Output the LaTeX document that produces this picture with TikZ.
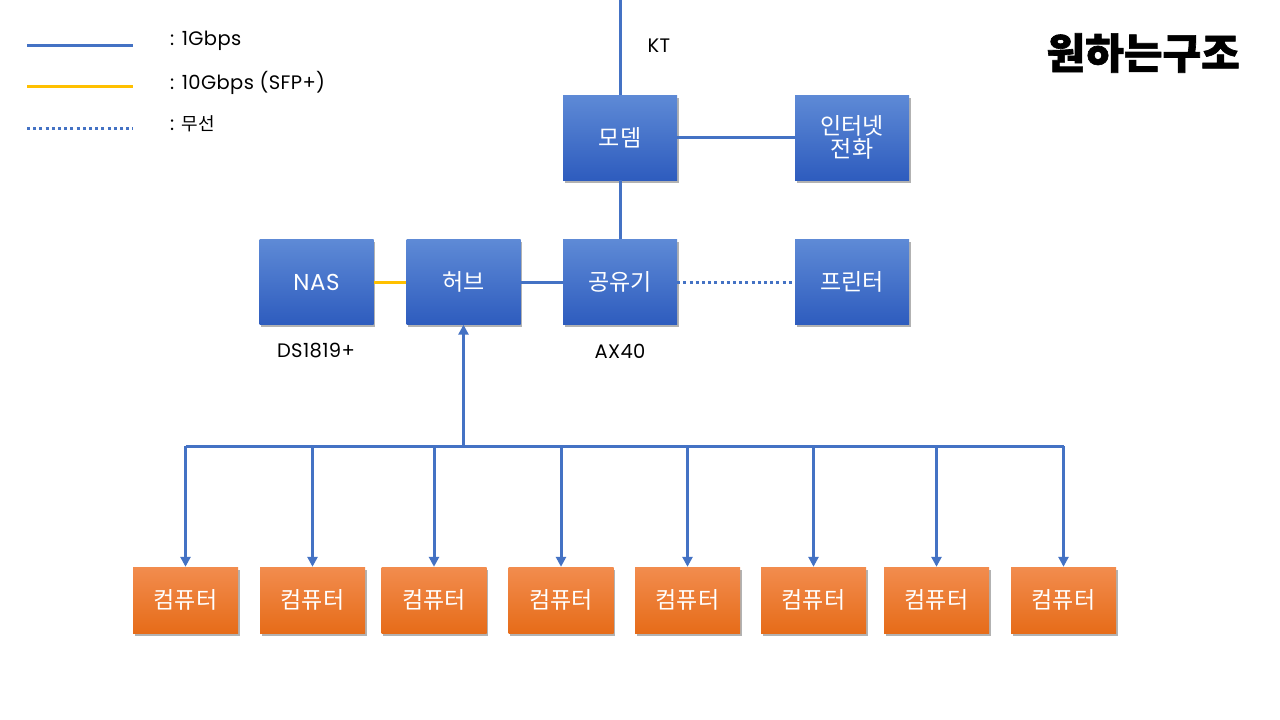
\documentclass[tikz,border=0pt]{standalone}
\usepackage{fontspec}
\setmainfont{Noto Sans CJK KR}
\newfontfamily\latinfont[LetterSpace=2]{Poppins}
\newfontfamily\titlefont[BoldFeatures={FakeBold=1.5}]{Noto Sans CJK KR}
\usetikzlibrary{shadows,arrows.meta}
\definecolor{lblue}{HTML}{4472C4}
\definecolor{lyellow}{HTML}{FFC000}
\definecolor{btop}{HTML}{5E8AD6}
\definecolor{bbot}{HTML}{2E5CBE}
\definecolor{otop}{HTML}{F28C4E}
\definecolor{obot}{HTML}{E66C19}
\tikzset{
  bluebox/.style={rectangle, top color=btop, bottom color=bbot, text=white,
    minimum width=114pt, minimum height=85pt, inner sep=0pt, align=center,
    font=\fontsize{23}{26}\selectfont,
    drop shadow={opacity=0.3, fill=black, shadow xshift=1.5pt, shadow yshift=-2.5pt}},
  pcbox/.style={rectangle, top color=otop, bottom color=obot, text=white,
    minimum width=105pt, minimum height=66pt, inner sep=0pt,
    font=\fontsize{23}{26}\selectfont,
    drop shadow={opacity=0.3, fill=black, shadow xshift=1.5pt, shadow yshift=-2.5pt}},
  gig/.style={draw=lblue, line width=3pt},
  tengig/.style={draw=lyellow, line width=3pt},
  wifi/.style={draw=lblue, line width=3pt, dash pattern=on 3pt off 3.2pt},
  arr/.style={gig, -{Triangle[width=10pt,length=10pt]}},
  lbl/.style={font=\latinfont\fontsize{19.5}{22}\selectfont, text=black, inner sep=0pt},
}
\begin{document}
\begin{tikzpicture}[x=1pt,y=-1pt]
\useasboundingbox (0,0) rectangle (1280,720);
\fill[white] (0,0) rectangle (1280,720);

% legend
\draw[gig] (27,45) -- (133,45);
\draw[tengig] (27,86) -- (133,86);
\draw[wifi] (27,128) -- (133,128);
\node[lbl, anchor=west] (lg1) at (170,41) {: 1Gbps};
\node[lbl, anchor=west] (lg2) at (170,83) {: 10Gbps (SFP+)};
\node[lbl, anchor=west] (lg3) at (170,124) {: {\rmfamily\fontsize{18}{20}\selectfont 무선}};

% title
\node[font=\titlefont\fontsize{42}{48}\selectfont\bfseries, anchor=east, inner sep=0pt] (title) at (1240,53) {원하는구조};

% blue boxes
\node[bluebox] (modem) at (620,137.5) {모뎀};
\node[bluebox] (phone) at (852,137.5) {인터넷\\[-3pt]전화};
\node[bluebox] (nas) at (316.5,282) {\latinfont NAS};
\node[bluebox] (hub) at (463.5,282) {허브};
\node[bluebox] (router) at (620,282) {공유기};
\node[bluebox] (printer) at (852,282) {프린터};

\node[lbl] (kt) at (659,46) {KT};
\node[lbl] (ds) at (316,351) {DS1819+};
\node[lbl] (ax) at (620,351) {AX40};

% computers
\foreach \i/\x in {1/185.5,2/312.5,3/434,4/561,5/687.5,6/813.5,7/936.5,8/1063.5}{
  \node[pcbox] (pc\i) at (\x,600) {컴퓨터};
}

% connectors
\coordinate (ktend) at (620,0);
\draw[gig] (ktend) -- (modem.north);
\draw[gig] (modem) -- (phone);
\draw[gig] (modem) -- (router);
\draw[gig] (hub) -- (router);
\draw[tengig] (nas) -- (hub);
\draw[wifi] (router.east) -- (printer.west);

\coordinate (bus) at (463.5,446);
\draw[gig] (pc1.north |- bus) -- (pc8.north |- bus);
\draw[arr] (bus) -- (hub.south);
\foreach \i in {1,...,8}{
  \draw[arr] (pc\i.north |- bus) -- (pc\i.north);
}
\end{tikzpicture}
\end{document}
